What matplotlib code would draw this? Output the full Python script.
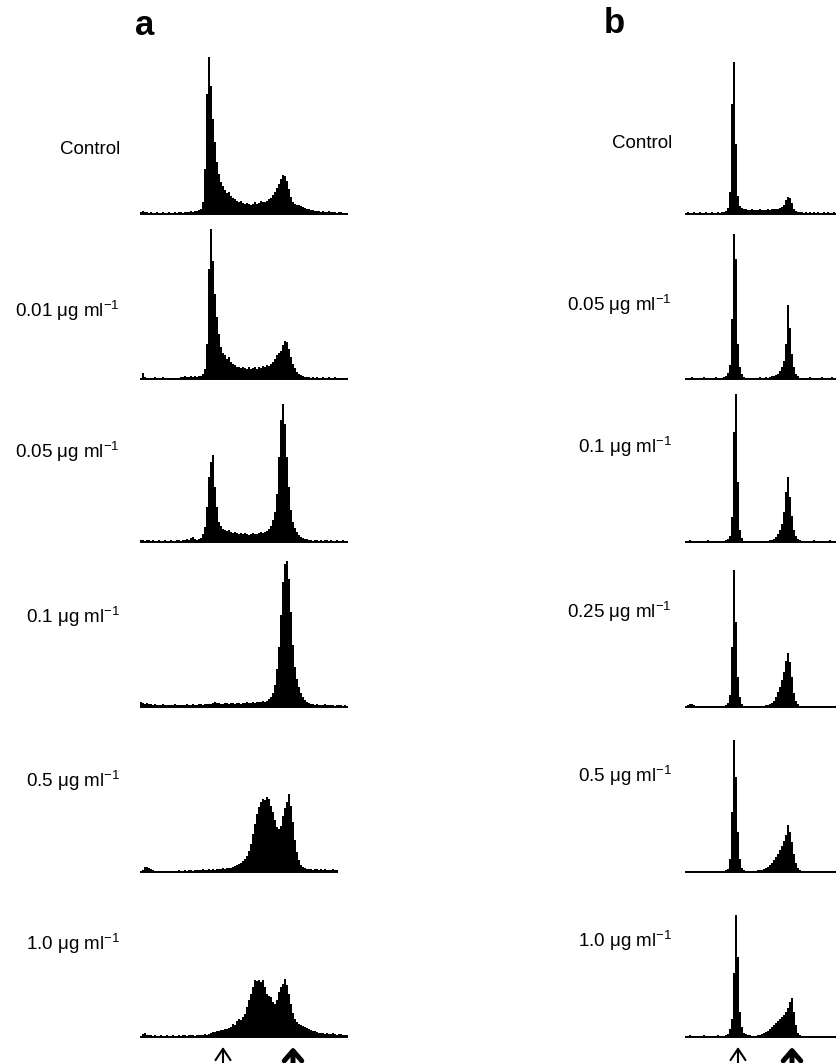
import matplotlib.pyplot as plt
import numpy as np

# DNA histograms (cell counts per channel)
# panel a: one channel per 2 px, channels 0..103
a_labels = ["Control", "0.01 μg ml$^{-1}$", "0.05 μg ml$^{-1}$",
            "0.1 μg ml$^{-1}$", "0.5 μg ml$^{-1}$", "1.0 μg ml$^{-1}$"]

a_control = [2, 3, 2, 2, 1, 2, 1, 1, 2, 1, 1, 2, 1, 1, 2, 1, 1, 2, 1, 2,
             2, 1, 2, 2, 2, 3, 2, 3, 3, 4,
             5, 12, 45, 120, 157, 128, 95, 72, 52, 40,
             32, 28, 24, 21, 22, 18, 16, 15, 13, 12,
             13, 11, 10, 11, 10, 9, 10, 12, 10, 11,
             13, 12, 12, 13, 15, 16, 19, 22, 26, 30,
             35, 39, 38, 33, 25, 17, 12, 10, 9, 9,
             8, 7, 6, 5, 5, 4, 4, 3, 3, 3,
             2, 3, 2, 2, 3, 2, 2, 2, 1, 2,
             2, 1, 1, 1]
a_001 = [1, 6, 2, 1, 1, 1, 1, 2, 1, 1, 1, 2, 1, 1, 1, 1, 1, 1, 1, 1,
         2, 2, 3, 2, 2, 3, 2, 3, 2, 3,
         3, 5, 10, 35, 110, 150, 118, 85, 62, 45,
         32, 26, 24, 20, 22, 17, 15, 14, 12, 12,
         11, 12, 11, 10, 12, 10, 11, 12, 10, 12,
         11, 13, 12, 14, 13, 15, 17, 20, 24, 26,
         28, 34, 38, 37, 30, 22, 15, 11, 7, 5,
         4, 3, 2, 2, 2, 1, 2, 1, 2, 1,
         1, 2, 1, 1, 2, 1, 1, 2, 1, 1,
         1, 1, 1, 1]
a_005 = [2, 2, 1, 2, 2, 1, 2, 1, 1, 2, 1, 1, 2, 1, 1, 2, 1, 1, 2, 2,
         1, 2, 2, 3, 2, 4, 5, 3, 2, 3,
         4, 8, 15, 35, 65, 80, 87, 55, 35, 20,
         16, 13, 12, 11, 12, 10, 9, 10, 9, 8,
         9, 8, 9, 8, 7, 8, 9, 8, 8, 9,
         10, 9, 10, 11, 13, 16, 22, 30, 48, 85,
         122, 138, 118, 85, 55, 32, 20, 14, 10, 7,
         5, 4, 3, 3, 2, 2, 1, 2, 2, 1,
         2, 1, 2, 2, 1, 2, 1, 1, 2, 1,
         1, 2, 1, 1]
a_01 = [5, 4, 3, 4, 3, 3, 2, 3, 2, 2, 2, 3, 2, 2, 2, 2, 2, 3, 2, 2,
        2, 2, 2, 3, 2, 2, 3, 2, 2, 3,
        3, 2, 3, 3, 3, 3, 4, 5, 4, 4,
        3, 3, 4, 4, 3, 4, 4, 3, 4, 4,
        3, 4, 4, 5, 4, 4, 5, 4, 5, 5,
        5, 6, 5, 6, 8, 10, 14, 22, 38, 60,
        92, 125, 143, 146, 128, 95, 62, 40, 28, 20,
        14, 10, 7, 5, 4, 3, 3, 2, 3, 2,
        2, 2, 3, 2, 2, 2, 2, 1, 2, 2,
        2, 1, 2, 1]
a_05 = [1, 2, 5, 5, 4, 3, 2, 1, 1, 1, 1, 0, 1, 1, 1, 1, 1, 1, 1, 2,
        1, 1, 2, 1, 2, 2, 1, 2, 2, 2,
        2, 3, 2, 2, 3, 2, 3, 2, 3, 3,
        3, 4, 3, 4, 4, 4, 5, 6, 7, 8,
        9, 11, 13, 16, 21, 28, 38, 48, 58, 65,
        70, 73, 72, 75, 73, 66, 60, 52, 45, 43,
        46, 56, 64, 70, 78, 66, 50, 32, 20, 12,
        7, 5, 4, 3, 3, 3, 2, 3, 3, 2,
        3, 2, 3, 2, 2, 2, 3, 2, 2]
a_10 = [1, 3, 4, 2, 2, 2, 1, 2, 1, 1, 2, 1, 1, 2, 1, 1, 2, 1, 1, 2,
        1, 2, 2, 1, 2, 2, 2, 1, 2, 2,
        2, 2, 3, 2, 3, 4, 5, 5, 6, 6,
        7, 7, 8, 8, 9, 10, 13, 12, 16, 18,
        17, 20, 23, 30, 37, 43, 50, 57, 56, 57,
        55, 57, 50, 43, 41, 40, 35, 33, 37, 45,
        50, 53, 58, 52, 43, 33, 24, 18, 15, 13,
        12, 11, 10, 9, 8, 7, 6, 6, 5, 4,
        4, 4, 3, 4, 3, 3, 4, 3, 2, 3,
        3, 2, 2, 2]

# panel b: same channel width, only the visible part (channels 0..75)
b_labels = ["Control", "0.05 μg ml$^{-1}$", "0.1 μg ml$^{-1}$",
            "0.25 μg ml$^{-1}$", "0.5 μg ml$^{-1}$", "1.0 μg ml$^{-1}$"]

b_control = [1, 2, 1, 1, 2, 1, 1, 2, 1, 1, 2, 1, 1, 2, 1, 1, 2, 1, 2, 2,
             3, 6, 22, 110, 152, 70, 18, 8, 6, 5,
             5, 4, 4, 5, 4, 4, 4, 5, 4, 4,
             4, 5, 4, 5, 5, 5, 5, 6, 7, 9,
             14, 17, 16, 11, 5, 3, 2, 2, 2, 1,
             2, 1, 2, 1, 2, 1, 2, 1, 1, 2,
             1, 2, 1, 1, 2, 1]
b_005 = [1, 1, 1, 2, 1, 1, 1, 1, 1, 2, 1, 1, 1, 1, 1, 2, 1, 1, 1, 2,
         3, 6, 14, 60, 145, 120, 35, 12, 5, 2,
         1, 1, 1, 1, 1, 1, 1, 2, 1, 1,
         2, 1, 2, 3, 3, 4, 5, 8, 12, 18,
         35, 74, 51, 25, 12, 5, 3, 1, 1, 1,
         1, 1, 2, 1, 1, 1, 1, 1, 2, 1,
         1, 1, 1, 2, 1, 1]
b_01 = [1, 1, 2, 1, 1, 1, 1, 1, 1, 1, 1, 2, 1, 1, 1, 1, 1, 1, 1, 1,
        2, 3, 6, 25, 110, 148, 60, 12, 4, 1,
        1, 1, 1, 1, 1, 1, 1, 1, 1, 1,
        1, 1, 2, 2, 3, 5, 8, 12, 18, 30,
        50, 65, 45, 26, 12, 6, 3, 2, 1, 1,
        1, 1, 1, 1, 2, 1, 1, 1, 1, 1,
        1, 1, 2, 1, 1, 1]
b_025 = [1, 2, 3, 3, 2, 1, 1, 1, 1, 1, 1, 1, 1, 1, 1, 1, 1, 1, 1, 1,
         2, 4, 12, 60, 137, 85, 30, 10, 3, 1,
         1, 1, 1, 1, 1, 1, 1, 1, 1, 1,
         2, 2, 3, 4, 6, 10, 15, 20, 27, 35,
         46, 54, 45, 30, 14, 6, 3, 1, 1, 1,
         1, 1, 1, 1, 1, 1, 1, 1, 1, 1,
         1, 1, 1, 1, 1, 1]
b_05 = [1, 1, 1, 1, 1, 1, 1, 1, 1, 1, 1, 1, 1, 1, 1, 1, 1, 1, 1, 1,
        2, 3, 13, 60, 132, 95, 40, 13, 4, 2,
        1, 1, 1, 1, 1, 1, 2, 2, 2, 3,
        4, 5, 7, 9, 12, 15, 18, 22, 26, 31,
        37, 47, 40, 30, 18, 9, 4, 2, 1, 1,
        1, 1, 1, 1, 1, 1, 1, 1, 1, 1,
        1, 1, 1, 1, 1, 1]
b_10 = [1, 1, 2, 1, 1, 1, 1, 1, 1, 2, 1, 1, 1, 1, 1, 1, 2, 1, 1, 1,
        2, 3, 8, 18, 64, 122, 80, 25, 10, 4,
        3, 2, 2, 1, 1, 1, 2, 2, 3, 4,
        5, 6, 8, 10, 12, 14, 16, 18, 20, 22,
        25, 29, 35, 39, 25, 12, 4, 2, 1, 1,
        1, 1, 1, 1, 1, 1, 1, 1, 1, 1,
        1, 1, 1, 1, 1, 1]

a_data = [a_control, a_001, a_005, a_01, a_05, a_10]
b_data = [b_control, b_005, b_01, b_025, b_05, b_10]

# G1 / G2 marker channels
a_arrows = [41.5, 76.5]
b_arrows = [26.5, 53.5]

plt.rcParams['font.family'] = ['Liberation Sans', 'DejaVu Sans']
plt.rcParams['mathtext.fontset'] = 'custom'
plt.rcParams['mathtext.rm'] = 'Liberation Sans'
plt.rcParams['mathtext.it'] = 'Liberation Sans:italic'

W, H = 836, 1063
fig = plt.figure(figsize=(W / 100, H / 100), dpi=100)

# layout in pixels
baselines = [214, 379, 542, 707, 872, 1037]
a_label_y = [150, 311, 452, 617, 781, 944]
b_label_y = [143, 305, 447, 612, 776, 941]
AX_W, AX_H = 208, 160
LABEL_SIZE = 13.5


def add_hist(x0, base, counts):
    ax = fig.add_axes([x0 / W, (H - base) / H, AX_W / W, AX_H / H])
    edges = np.arange(len(counts) + 1)
    ax.stairs(counts, edges, fill=True, color="black", lw=0)
    ax.hlines(0, edges[0], edges[-1], color="black", lw=1.4, clip_on=False)
    ax.set_xlim(0, 104)
    ax.set_ylim(0, 160)
    ax.axis("off")
    return ax


def add_arrows(ax, chans):
    # thin open arrow for G1, bold arrow for G2
    ax.annotate("", xy=(chans[0], -10), xytext=(chans[0], -27),
                arrowprops=dict(arrowstyle="->,head_length=0.45,head_width=0.3",
                                mutation_scale=18, lw=1.5, color="black",
                                shrinkA=0, shrinkB=0),
                annotation_clip=False)
    ax.annotate("", xy=(chans[1], -10), xytext=(chans[1], -27),
                arrowprops=dict(arrowstyle="->,head_length=0.4,head_width=0.35",
                                mutation_scale=18, lw=3.6, color="black",
                                shrinkA=0, shrinkB=0),
                annotation_clip=False)


for i in range(6):
    ax_a = add_hist(140, baselines[i], a_data[i])
    ax_b = add_hist(685, baselines[i], b_data[i])
    fig.text(120 / W, 1 - a_label_y[i] / H, a_labels[i],
             ha="right", va="center", fontsize=LABEL_SIZE)
    fig.text(672 / W, 1 - b_label_y[i] / H, b_labels[i],
             ha="right", va="center", fontsize=LABEL_SIZE)
    if i == 5:
        add_arrows(ax_a, a_arrows)
        add_arrows(ax_b, b_arrows)

fig.text(135 / W, 1 - 35 / H, "a", fontsize=25, fontweight="bold",
         ha="left", va="baseline")
fig.text(604 / W, 1 - 33 / H, "b", fontsize=25, fontweight="bold",
         ha="left", va="baseline")

fig.savefig("out.png", dpi=100)
